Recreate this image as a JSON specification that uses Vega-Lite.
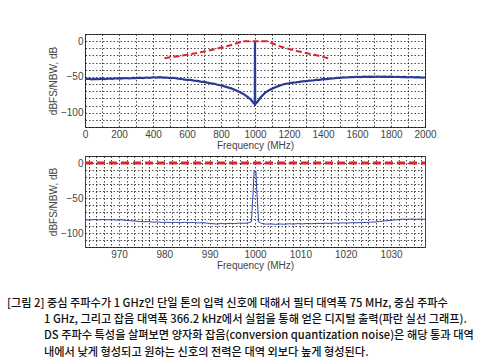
{
  "$schema": "https://vega.github.io/schema/vega-lite/v6.json",
  "padding": {"left": 6, "top": 33, "right": 0, "bottom": 0},
  "background": "white",
  "datasets": {
    "topBlue": [
      {"f":0,"db":-53},{"f":20,"db":-52.5},{"f":40,"db":-53.5},{"f":60,"db":-52.8},{"f":80,"db":-53.2},{"f":100,"db":-52.4},{"f":120,"db":-53},{"f":140,"db":-52.2},{"f":160,"db":-52.8},{"f":180,"db":-51.9},{"f":200,"db":-52.5},{"f":220,"db":-52},{"f":240,"db":-51.5},{"f":260,"db":-52.2},{"f":280,"db":-51.4},{"f":300,"db":-51.8},{"f":320,"db":-51},{"f":340,"db":-51.6},{"f":360,"db":-50.8},{"f":380,"db":-51.2},{"f":400,"db":-50.5},{"f":420,"db":-51},{"f":440,"db":-50.4},{"f":460,"db":-51},{"f":480,"db":-50.8},{"f":500,"db":-51.6},{"f":520,"db":-51.2},{"f":540,"db":-52.2},{"f":560,"db":-52.6},{"f":580,"db":-53.4},{"f":600,"db":-54},{"f":620,"db":-54.2},{"f":640,"db":-55.2},{"f":660,"db":-55.6},{"f":680,"db":-56.6},{"f":700,"db":-57},{"f":720,"db":-58},{"f":740,"db":-58.8},{"f":760,"db":-59.6},{"f":780,"db":-61},{"f":800,"db":-62},{"f":820,"db":-63.2},{"f":840,"db":-64.6},{"f":860,"db":-66},{"f":880,"db":-67.8},{"f":900,"db":-70},{"f":920,"db":-72.4},{"f":940,"db":-75},{"f":960,"db":-78.5},{"f":970,"db":-80.5},{"f":980,"db":-83},{"f":990,"db":-86},{"f":996,"db":-87.5},{"f":999,"db":-88},{"f":1000,"db":-1},{"f":1001,"db":-88},{"f":1004,"db":-87.5},{"f":1010,"db":-86},{"f":1020,"db":-83},{"f":1030,"db":-79.5},{"f":1044,"db":-76},{"f":1060,"db":-72},{"f":1080,"db":-69},{"f":1100,"db":-66.5},{"f":1120,"db":-64.5},{"f":1140,"db":-62.5},{"f":1160,"db":-61},{"f":1180,"db":-59.5},{"f":1200,"db":-59},{"f":1220,"db":-58},{"f":1240,"db":-57.6},{"f":1260,"db":-57},{"f":1280,"db":-56.2},{"f":1300,"db":-56},{"f":1320,"db":-55.2},{"f":1340,"db":-55},{"f":1360,"db":-54.2},{"f":1380,"db":-54},{"f":1400,"db":-53.2},{"f":1420,"db":-53},{"f":1440,"db":-52.4},{"f":1460,"db":-52.2},{"f":1480,"db":-51.4},{"f":1500,"db":-51.2},{"f":1520,"db":-50.6},{"f":1540,"db":-50.8},{"f":1560,"db":-50.2},{"f":1580,"db":-50.4},{"f":1600,"db":-49.8},{"f":1620,"db":-50.2},{"f":1640,"db":-49.6},{"f":1660,"db":-50},{"f":1680,"db":-49.5},{"f":1700,"db":-49.9},{"f":1720,"db":-49.4},{"f":1740,"db":-49.8},{"f":1760,"db":-49.5},{"f":1780,"db":-50},{"f":1800,"db":-49.6},{"f":1820,"db":-50.1},{"f":1840,"db":-49.8},{"f":1860,"db":-50.3},{"f":1880,"db":-50},{"f":1900,"db":-50.5},{"f":1920,"db":-50.1},{"f":1940,"db":-50.7},{"f":1960,"db":-50.4},{"f":1980,"db":-51},{"f":2000,"db":-50.8}
    ],
    "topRed": [
      {"f":468,"db":-24},{"f":500,"db":-22.5},{"f":550,"db":-21},{"f":600,"db":-19},{"f":650,"db":-17},{"f":700,"db":-14.5},{"f":750,"db":-12},{"f":800,"db":-9},{"f":850,"db":-6},{"f":900,"db":-2.5},{"f":930,"db":0},{"f":1000,"db":0},{"f":1070,"db":0},{"f":1100,"db":-3},{"f":1150,"db":-7.5},{"f":1200,"db":-11},{"f":1250,"db":-14},{"f":1300,"db":-16.5},{"f":1350,"db":-19},{"f":1400,"db":-22},{"f":1430,"db":-24}
    ],
    "botBlue": [
      {"f":962.5,"db":-81},{"f":963.5,"db":-81.5},{"f":964.5,"db":-80.8},{"f":965.5,"db":-81.3},{"f":966.5,"db":-80.7},{"f":967.5,"db":-81.2},{"f":968.5,"db":-81},{"f":969.5,"db":-81.6},{"f":970.5,"db":-81.2},{"f":971.5,"db":-82},{"f":972.5,"db":-82.4},{"f":973.5,"db":-83},{"f":974.5,"db":-83.5},{"f":975.5,"db":-84},{"f":976.5,"db":-83.6},{"f":977.5,"db":-84.5},{"f":978.5,"db":-84.2},{"f":979.5,"db":-85},{"f":980.5,"db":-84.6},{"f":981.5,"db":-85.2},{"f":982.5,"db":-84.8},{"f":983.5,"db":-85.4},{"f":984.5,"db":-84.7},{"f":985.5,"db":-85.3},{"f":986.5,"db":-84.9},{"f":987.5,"db":-85.6},{"f":988.5,"db":-85.2},{"f":989.5,"db":-86},{"f":990.5,"db":-86.6},{"f":991.5,"db":-87.2},{"f":992.5,"db":-86.5},{"f":993.5,"db":-86.9},{"f":994.5,"db":-86.2},{"f":995.5,"db":-86.6},{"f":996.5,"db":-85.8},{"f":997.5,"db":-86.2},{"f":998.5,"db":-85.5},{"f":999.2,"db":-84},{"f":999.6,"db":-40},{"f":999.8,"db":-12},{"f":1000,"db":-14},{"f":1000.2,"db":-12},{"f":1000.4,"db":-40},{"f":1000.8,"db":-84},{"f":1001.5,"db":-86.5},{"f":1002.5,"db":-87.3},{"f":1003.5,"db":-87},{"f":1004.5,"db":-87.6},{"f":1005.5,"db":-87.1},{"f":1006.5,"db":-87.5},{"f":1007.5,"db":-86.8},{"f":1008.5,"db":-87.2},{"f":1009.5,"db":-86.6},{"f":1010.5,"db":-87},{"f":1011.5,"db":-86.4},{"f":1012.5,"db":-86.8},{"f":1013.5,"db":-86.2},{"f":1014.5,"db":-86.5},{"f":1015.5,"db":-86},{"f":1016.5,"db":-86.3},{"f":1017.5,"db":-85.7},{"f":1018.5,"db":-86},{"f":1019.5,"db":-85.5},{"f":1020.5,"db":-85.8},{"f":1021.5,"db":-85.2},{"f":1022.5,"db":-85.5},{"f":1023.5,"db":-84.8},{"f":1024.5,"db":-85.1},{"f":1025.5,"db":-84.4},{"f":1026.5,"db":-84.2},{"f":1027.5,"db":-83.5},{"f":1028.5,"db":-82.8},{"f":1029.5,"db":-82.2},{"f":1030.5,"db":-81.5},{"f":1031.5,"db":-81},{"f":1032.5,"db":-80.2},{"f":1033.5,"db":-80.6},{"f":1034.5,"db":-80},{"f":1035.5,"db":-80.5},{"f":1036.5,"db":-80.1},{"f":1037.5,"db":-80.4}
    ],
    "botRed": [
      {"f":962.5,"db":0},{"f":1037.5,"db":0}
    ]
  },
  "title": {
    "text": [
      "[그림 2] 중심 주파수가 1 GHz인 단일 톤의 입력 신호에 대해서 필터 대역폭 75 MHz, 중심 주파수",
      "\u2800\u2800\u2800\u2800\u00a0\u00a01 GHz, 그리고 잡음 대역폭 366.2 kHz에서 실험을 통해 얻은 디지털 출력(파란 실선 그래프).",
      "\u2800\u2800\u2800\u2800\u00a0\u00a0DS 주파수 특성을 살펴보면 양자화 잡음(conversion quantization noise)은 해당 통과 대역",
      "\u200b\u2800\u2800\u2800\u2800\u00a0\u00a0\u200b내에서 낮게 형성되고 원하는 신호의 전력은 대역 외보다 높게 형성된다."
    ],
    "orient": "bottom",
    "anchor": "start",
    "frame": "bounds",
    "dx": -41,
    "offset": 27,
    "font": "Noto Sans CJK KR",
    "fontSize": 11.2,
    "fontWeight": 500,
    "color": "#111",
    "lineHeight": 16.4,
    "baseline": "top"
  },
  "spacing": 4,
  "vconcat": [
    {
      "width": 340,
      "height": 93,
      "resolve": {"axis": {"x": "independent", "y": "independent"}},
      "layer": [
        {
          "data": {"name": "topBlue"},
          "mark": {"type": "line", "color": "#2a3b94", "strokeWidth": 2.2, "clip": true},
          "encoding": {
            "x": {"field": "f", "type": "quantitative", "scale": {"domain": [0, 2000], "nice": false},
              "axis": {"title": "Frequency (MHz)", "orient": "bottom", "grid": false, "format": "d",
                "values": [0,200,400,600,800,1000,1200,1400,1600,1800,2000]}},
            "y": {"field": "db", "type": "quantitative", "scale": {"domain": [-120, 10], "nice": false},
              "axis": {"title": "dBFS/NBW, dB", "orient": "left", "grid": false, "values": [-100,-50,0]}}
          }
        },
        {
          "data": {"name": "topRed"},
          "mark": {"type": "line", "color": "#e3202b", "strokeWidth": 2, "strokeDash": [6, 3], "clip": true},
          "encoding": {
            "x": {"field": "f", "type": "quantitative",
              "axis": {"title": null, "orient": "bottom", "grid": true, "labels": false,
                "values": [0,100,200,300,400,500,600,700,800,900,1000,1100,1200,1300,1400,1500,1600,1700,1800,1900,2000]}},
            "y": {"field": "db", "type": "quantitative",
              "axis": {"title": null, "orient": "left", "grid": true, "labels": false,
                "values": [-120,-110,-100,-90,-80,-70,-60,-50,-40,-30,-20,-10,0,10]}}
          }
        }
      ]
    },
    {
      "width": 340,
      "height": 91,
      "resolve": {"axis": {"x": "independent", "y": "independent"}},
      "layer": [
        {
          "data": {"name": "botRed"},
          "mark": {"type": "line", "color": "#e3202b", "strokeWidth": 3, "strokeDash": [8, 4], "clip": true},
          "encoding": {
            "x": {"field": "f", "type": "quantitative", "scale": {"domain": [962.5, 1037.5], "nice": false},
              "axis": {"title": "Frequency (MHz)", "orient": "bottom", "grid": false, "format": "d",
                "values": [970,980,990,1000,1010,1020,1030]}},
            "y": {"field": "db", "type": "quantitative", "scale": {"domain": [-120, 10], "nice": false},
              "axis": {"title": "dBFS/NBW, dB", "orient": "left", "grid": false, "values": [-100,-50,0]}}
          }
        },
        {
          "data": {"name": "botBlue"},
          "mark": {"type": "line", "color": "#3442a6", "strokeWidth": 1, "clip": true},
          "encoding": {
            "x": {"field": "f", "type": "quantitative",
              "axis": {"title": null, "orient": "bottom", "grid": true, "labels": false,
                "values": [963.33,965,966.67,968.33,970,971.67,973.33,975,976.67,978.33,980,981.67,983.33,985,986.67,988.33,990,991.67,993.33,995,996.67,998.33,1000,1001.67,1003.33,1005,1006.67,1008.33,1010,1011.67,1013.33,1015,1016.67,1018.33,1020,1021.67,1023.33,1025,1026.67,1028.33,1030,1031.67,1033.33,1035,1036.67]}},
            "y": {"field": "db", "type": "quantitative",
              "axis": {"title": null, "orient": "left", "grid": true, "labels": false,
                "values": [-120,-110,-100,-90,-80,-70,-60,-50,-40,-30,-20,-10,0,10]}}
          }
        }
      ]
    }
  ],
  "config": {
    "view": {"stroke": "#444", "strokeWidth": 1},
    "font": "Liberation Sans",
    "axis": {
      "domain": false,
      "ticks": false,
      "tickSize": 0,
      "labelOverlap": false,
      "gridColor": "#000",
      "gridDash": [1.5, 2],
      "gridWidth": 1,
      "gridOpacity": 0.7,
      "labelFont": "Liberation Sans",
      "labelFontSize": 10,
      "labelColor": "#444",
      "labelPadding": 2,
      "titleFont": "Liberation Sans",
      "titleFontSize": 10,
      "titleFontWeight": "normal",
      "titleColor": "#444"
    },
    "axisX": {"titlePadding": 1, "labelFlush": false},
    "axisY": {"titlePadding": 2}
  }
}
